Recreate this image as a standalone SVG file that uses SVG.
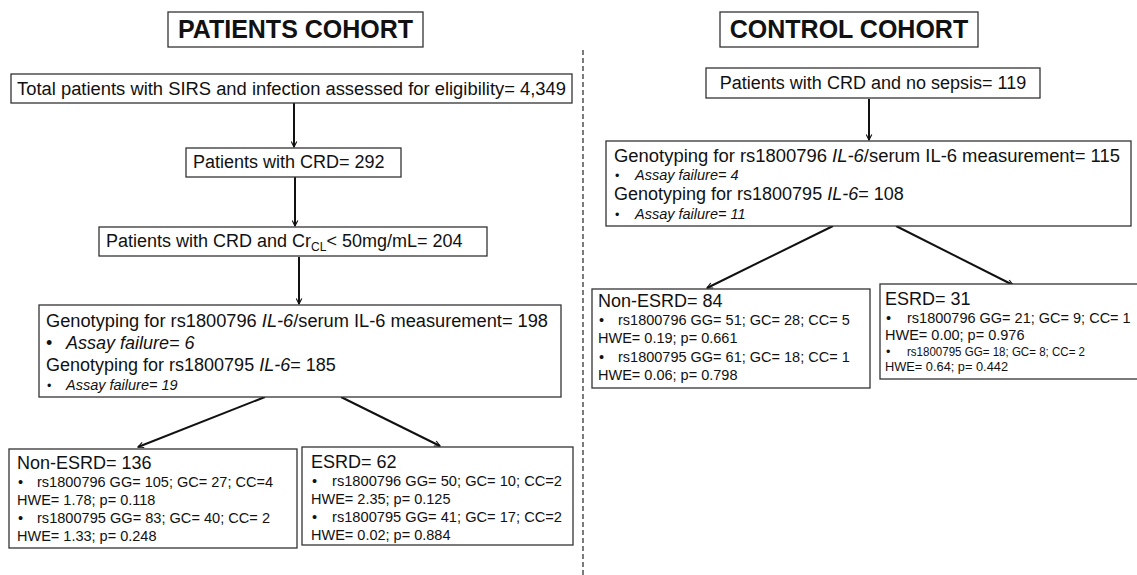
<svg xmlns="http://www.w3.org/2000/svg" width="1137" height="575" viewBox="0 0 1137 575">
  <style>
    text { font-family: "Liberation Sans", Arial, sans-serif; fill: #111; }
    .box { fill: #fff; stroke: #333; stroke-width: 1.3; }
    .title { font-weight: bold; font-size: 25px; }
    .main { font-size: 18px; }
    .head { font-size: 18px; }
    .row { font-size: 14.5px; }
    .note { font-size: 14.5px; font-style: italic; }
    .fine { font-size: 12.5px; }
    .it { font-style: italic; }
    .link { stroke: #111; stroke-width: 2; fill: none; marker-end: url(#head); }
    .divider { stroke: #444; stroke-width: 1.4; stroke-dasharray: 5 3; }
  </style>
  <defs>
    <marker id="head" viewBox="0 0 10 10" refX="9" refY="5" markerWidth="7" markerHeight="7" orient="auto" markerUnits="userSpaceOnUse">
      <path d="M1,1 L9,5 L1,9" fill="none" stroke="#111" stroke-width="1.6"/>
    </marker>
  </defs>

  <rect width="1137" height="575" fill="#fff"/>

  <!-- divider between the two cohorts -->
  <line class="divider" x1="583" y1="50" x2="583" y2="575"/>

  <!-- connectors -->
  <g id="connectors">
    <line class="link" x1="294" y1="103" x2="294" y2="147"/>
    <line class="link" x1="295" y1="177" x2="295" y2="226"/>
    <line class="link" x1="299" y1="257" x2="299" y2="304"/>
    <line class="link" x1="265" y1="397" x2="138" y2="447"/>
    <line class="link" x1="341" y1="397" x2="440" y2="446"/>
    <line class="link" x1="869" y1="99" x2="869" y2="140"/>
    <line class="link" x1="833" y1="226" x2="707" y2="288"/>
    <line class="link" x1="896" y1="226" x2="1013" y2="285"/>
  </g>

  <!-- patients cohort -->
  <g id="patients-title">
    <rect class="box" x="168" y="12" width="255" height="35"/>
    <text class="title" x="295.5" y="38" text-anchor="middle">PATIENTS COHORT</text>
  </g>

  <g id="total-patients">
    <rect class="box" x="11" y="74" width="561" height="29"/>
    <text class="main" x="17" y="95" textLength="549" lengthAdjust="spacingAndGlyphs">Total patients with SIRS and infection assessed for eligibility=  4,349</text>
  </g>

  <g id="patients-crd">
    <rect class="box" x="186" y="148" width="215" height="29"/>
    <text class="main" x="193" y="168">Patients with CRD=  292</text>
  </g>

  <g id="patients-crcl">
    <rect class="box" x="99" y="227" width="388" height="29"/>
    <text class="main" x="106" y="247">Patients with CRD and Cr<tspan font-size="12" dy="4">CL</tspan><tspan dy="-4">&lt; 50mg/mL=  204</tspan></text>
  </g>

  <g id="patients-genotyping">
    <rect class="box" x="39" y="305" width="522" height="92"/>
    <text class="main" x="46" y="327" textLength="502" lengthAdjust="spacingAndGlyphs">Genotyping for rs1800796 <tspan class="it">IL-6</tspan>/serum IL-6 measurement= 198</text>
    <text class="main" x="46" y="349">•</text>
    <text class="main it" x="66" y="349">Assay failure= 6</text>
    <text class="main" x="46" y="371">Genotyping for rs1800795 <tspan class="it">IL-6</tspan>= 185</text>
    <text class="fine" x="47" y="390">•</text>
    <text class="note" x="66" y="390">Assay failure= 19</text>
  </g>

  <g id="patients-non-esrd">
    <rect class="box" x="9" y="449" width="288" height="99"/>
    <text class="head" x="17" y="469">Non-ESRD= 136</text>
    <text class="row" x="18" y="487">•</text>
    <text class="row" x="37" y="487" textLength="236" lengthAdjust="spacingAndGlyphs">rs1800796 GG= 105; GC= 27; CC=4</text>
    <text class="row" x="17" y="505">HWE= 1.78; p= 0.118</text>
    <text class="row" x="18" y="523">•</text>
    <text class="row" x="37" y="523" textLength="233" lengthAdjust="spacingAndGlyphs">rs1800795 GG= 83; GC= 40; CC= 2</text>
    <text class="row" x="17" y="541">HWE= 1.33; p= 0.248</text>
  </g>

  <g id="patients-esrd">
    <rect class="box" x="302" y="447" width="271" height="98"/>
    <text class="head" x="311" y="468">ESRD= 62</text>
    <text class="row" x="312" y="486">•</text>
    <text class="row" x="332" y="486" textLength="230" lengthAdjust="spacingAndGlyphs">rs1800796 GG= 50; GC= 10; CC=2</text>
    <text class="row" x="311" y="504">HWE= 2.35; p= 0.125</text>
    <text class="row" x="312" y="522">•</text>
    <text class="row" x="332" y="522" textLength="230" lengthAdjust="spacingAndGlyphs">rs1800795 GG= 41; GC= 17; CC=2</text>
    <text class="row" x="311" y="540">HWE= 0.02; p= 0.884</text>
  </g>

  <!-- control cohort -->
  <g id="control-title">
    <rect class="box" x="720" y="12" width="258" height="35"/>
    <text class="title" x="849" y="38" text-anchor="middle">CONTROL COHORT</text>
  </g>

  <g id="control-crd">
    <rect class="box" x="706" y="68" width="334" height="30"/>
    <text class="main" x="873" y="89" text-anchor="middle">Patients with CRD and no sepsis= 119</text>
  </g>

  <g id="control-genotyping">
    <rect class="box" x="606" y="141" width="525" height="85"/>
    <text class="main" x="614" y="162" textLength="506" lengthAdjust="spacingAndGlyphs">Genotyping for rs1800796 <tspan class="it">IL-6</tspan>/serum IL-6 measurement= 115</text>
    <text class="fine" x="615" y="180">•</text>
    <text class="note" x="635" y="180">Assay failure= 4</text>
    <text class="main" x="614" y="200">Genotyping for rs1800795 <tspan class="it">IL-6</tspan>= 108</text>
    <text class="fine" x="615" y="219">•</text>
    <text class="note" x="635" y="219">Assay failure= 11</text>
  </g>

  <g id="control-non-esrd">
    <rect class="box" x="592" y="289" width="278" height="99"/>
    <text class="head" x="598" y="307">Non-ESRD= 84</text>
    <text class="row" x="599" y="325">•</text>
    <text class="row" x="618" y="325">rs1800796 GG= 51; GC= 28; CC= 5</text>
    <text class="row" x="598" y="343">HWE= 0.19; p= 0.661</text>
    <text class="row" x="599" y="362">•</text>
    <text class="row" x="618" y="362">rs1800795 GG= 61; GC= 18; CC= 1</text>
    <text class="row" x="598" y="380">HWE= 0.06; p= 0.798</text>
  </g>

  <g id="control-esrd">
    <rect class="box" x="880" y="284" width="262" height="95"/>
    <text class="head" x="885" y="305">ESRD= 31</text>
    <text class="row" x="886" y="323">•</text>
    <text class="row" x="907" y="323" font-size="14">rs1800796 GG= 21; GC= 9; CC= 1</text>
    <text class="row" x="885" y="340">HWE= 0.00; p= 0.976</text>
    <text class="fine" x="886" y="356">•</text>
    <text class="fine" x="907" y="356" textLength="178" lengthAdjust="spacingAndGlyphs">rs1800795 GG= 18; GC= 8; CC= 2</text>
    <text class="fine" x="885" y="371" textLength="123" lengthAdjust="spacingAndGlyphs">HWE= 0.64; p= 0.442</text>
  </g>
</svg>
